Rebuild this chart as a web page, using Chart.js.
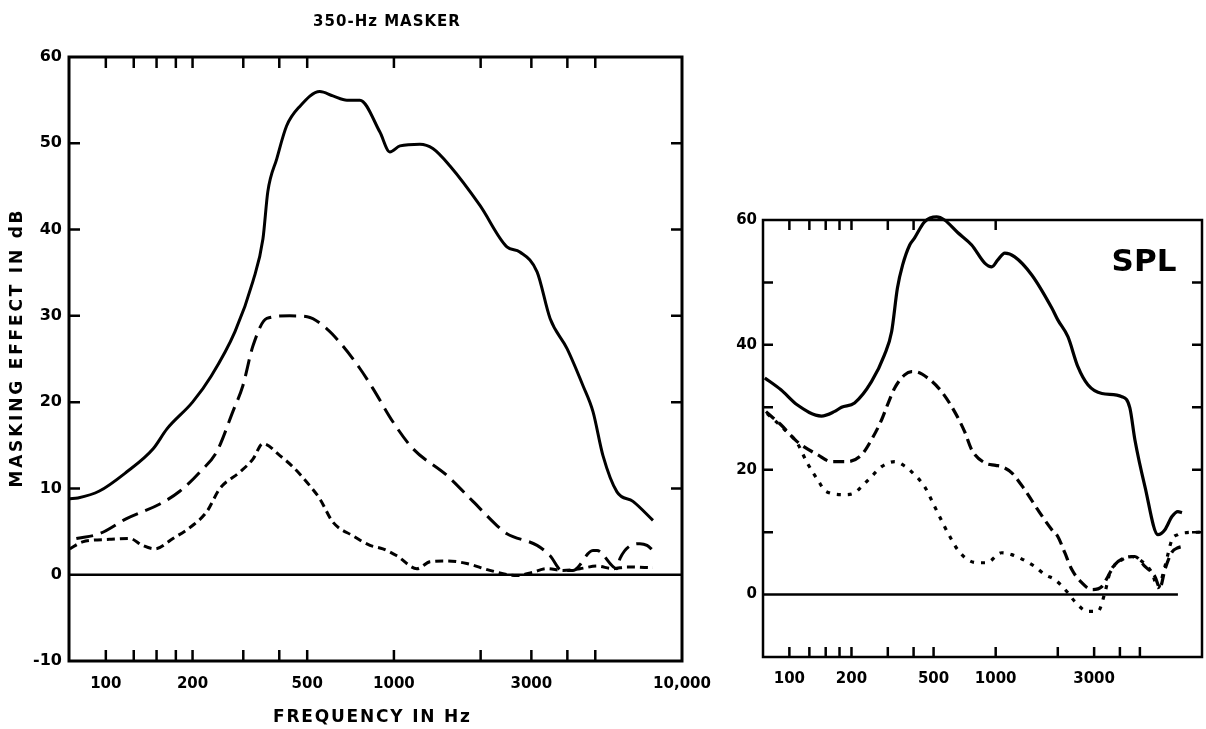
<!DOCTYPE html>
<html>
<head>
<meta charset="utf-8">
<script src="https://cdn.jsdelivr.net/npm/chart.js@4.4.1/dist/chart.umd.min.js"></script>
<style>
  html, body { margin: 0; padding: 0; background: #fff; }
  #wrap { position: relative; width: 1206px; height: 729px; overflow: hidden; background: #fff; }
  #c1 { position: absolute; left: 0; top: 0; }
  #c2 { position: absolute; left: 720px; top: 0; }
</style>
</head>
<body>
<div id="wrap">
  <canvas id="c1" width="720" height="729"></canvas>
  <canvas id="c2" width="486" height="729"></canvas>
</div>
<script>
// ---- Left panel: masking effect (dB) of a 350-Hz masker, three masker levels ----
const leftHighFreq = [75, 80, 95, 118, 146, 163, 200, 232, 281, 324, 351, 365, 392, 424, 472, 553, 614, 687, 762, 894, 968, 1050, 1231, 1365, 1563, 1989, 2467, 2736, 3140, 3484, 3990, 4533, 4909, 5317, 5946, 6757, 7929];
const leftHighDb   = [8.8, 8.9, 9.7, 11.9, 14.6, 16.9, 20, 23, 28.2, 34, 38.9, 44.4, 48.2, 52, 54.3, 56, 55.5, 55, 55, 51.3, 49, 49.7, 49.9, 49.4, 47.4, 42.8, 38, 37.4, 35.1, 29.7, 26.2, 21.9, 18.9, 13.8, 9.6, 8.5, 6.3];

const leftMidFreq = [79, 95, 118, 154, 181, 212, 243, 276, 299, 324, 362, 435, 500, 585, 665, 762, 845, 993, 1165, 1528, 1881, 2278, 2467, 3140, 3484, 3828, 4187, 4909, 5070, 5946, 6095, 7146, 7557, 7929];
const leftMidDb   = [4.2, 4.75, 6.5, 8.2, 9.7, 11.9, 14.3, 18.9, 21.9, 26.5, 29.7, 30, 29.9, 28.5, 26.5, 23.9, 21.6, 17.7, 14.6, 11.5, 8.5, 5.7, 4.75, 3.4, 2.2, 0.5, 0.5, 2.8, 2.8, 0.7, 1.9, 3.6, 3.4, 2.8];

const leftLowFreq = [75, 83, 103, 121, 134, 148, 171, 200, 224, 249, 292, 324, 351, 402, 446, 511, 553, 614, 721, 826, 916, 1024, 1202, 1334, 1528, 1790, 2154, 2673, 3040, 3398, 3862, 4425, 5070, 5754, 6442, 7929];
const leftLowDb   = [3, 3.8, 4.1, 4.2, 3.4, 3, 4.2, 5.7, 7.3, 10, 11.9, 13.4, 15.2, 13.8, 12.5, 10.3, 8.8, 6.1, 4.5, 3.4, 3, 2.2, 0.7, 1.5, 1.6, 1.3, 0.5, -0.1, 0.3, 0.7, 0.5, 0.7, 1, 0.7, 0.9, 0.8];

// ---- Right panel: same conditions expressed in SPL ----
const rightHighFreq = [76, 91, 109, 143, 165, 179, 207, 250, 289, 313, 334, 354, 383, 404, 452, 517, 565, 654, 765, 885, 957, 1024, 1107, 1237, 1496, 1871, 2000, 2239, 2502, 2798, 3273, 4093, 4470, 4728, 5290, 6114, 6612, 7150, 7644, 7998];
const rightHighDb   = [34.7, 32.8, 30.4, 28.6, 29.3, 30, 30.7, 34.1, 38.4, 42.1, 49.1, 52.8, 56, 57.1, 59.7, 60.5, 60, 58, 56, 53.1, 52.5, 53.6, 54.7, 54.1, 51.2, 45.9, 44, 41.3, 36.5, 33.6, 32.2, 31.7, 29.9, 24.8, 17.3, 9.6, 10.4, 12.5, 13.3, 13.1];

const rightMidFreq = [77, 91, 109, 137, 160, 191, 224, 250, 280, 299, 324, 362, 391, 404, 468, 547, 632, 707, 765, 885, 1000, 1069, 1196, 1383, 1599, 1871, 2000, 2163, 2339, 2614, 2925, 3273, 3500, 3783, 4228, 4728, 5290, 5913, 6252, 6612, 7150, 7644, 7998];
const rightMidDb   = [29.3, 27.2, 24.5, 22.4, 21.3, 21.3, 22.4, 24.8, 28, 30.4, 33.1, 35.2, 35.7, 35.7, 34.7, 32.5, 29.3, 26.1, 23.2, 21.1, 20.7, 20.5, 19.5, 16.8, 13.6, 10.4, 9.3, 6.7, 4, 1.9, 0.8, 1.3, 2.9, 4.8, 5.9, 6.1, 4.5, 2.9, 1.1, 4, 6.8, 7.5, 7.7];

const rightLowFreq = [78, 95, 109, 122, 137, 151, 185, 207, 224, 250, 280, 324, 362, 396, 452, 506, 565, 611, 654, 731, 818, 904, 1069, 1196, 1546, 1729, 1933, 2239, 2417, 2798, 3127, 3383, 3577, 3909, 4571, 5117, 5718, 6114, 6612, 7150, 7644, 8261, 10000];
const rightLowDb   = [29, 26.4, 24.3, 21.1, 18.4, 16.5, 16, 16.3, 17.3, 18.9, 20.5, 21.3, 20.6, 19.5, 17.3, 14.1, 10.9, 8.8, 7.2, 5.6, 5.1, 5.1, 6.7, 6.4, 4.5, 3.2, 2.4, 0.3, -1.1, -2.7, -2.7, 0.3, 3.5, 5.1, 6.1, 5.3, 3.5, 1.1, 4.5, 8.8, 9.6, 9.9, 10];

// ---- Axis ticks and labels ----
const freqMin = 74.5, freqMax = 10000;
const leftFreqLabels  = [100, 200, 500, 1000, 3000, 10000];
const rightFreqLabels = [100, 200, 500, 1000, 3000];
const freqMarks       = [100, 125, 150, 175, 200, 300, 400, 500, 1000, 2000, 3000, 4000, 5000];
const rightTopMarks   = [100, 125, 150, 175, 200, 300, 400, 1000];
const dbMarks         = [10, 20, 30, 40, 50];
const leftDbLabels    = [-10, 0, 10, 20, 30, 40, 50, 60];
const rightDbLabels   = [0, 20, 40, 60];

const titleText   = '350-Hz MASKER';
const xTitleText  = 'FREQUENCY IN Hz';
const yTitleText  = 'MASKING EFFECT IN dB';
const panelTag    = 'SPL';

const FONT = "'DejaVu Sans', sans-serif";
Chart.defaults.font.family = FONT;
Chart.defaults.color = '#000';

const toPoints = (xs, ys) => xs.map((f, i) => ({ x: f, y: ys[i] }));

function line(xs, ys, width, dash) {
  return {
    data: toPoints(xs, ys),
    borderColor: '#000',
    borderWidth: width,
    borderDash: dash,
    borderCapStyle: 'butt',
    borderJoinStyle: 'round',
    pointRadius: 0,
    fill: false,
    cubicInterpolationMode: 'monotone',
    clip: false
  };
}

// Frame and inward tick marks on all four sides
const frameTicks = {
  id: 'frameTicks',
  afterDatasetsDraw(chart, args, o) {
    const { ctx, chartArea: a, scales: { x, y } } = chart;
    ctx.save();
    ctx.strokeStyle = '#000';
    ctx.lineCap = 'butt';
    ctx.lineWidth = o.frame;
    ctx.strokeRect(a.left, a.top, a.right - a.left, a.bottom - a.top);
    ctx.lineWidth = o.tick;
    ctx.beginPath();
    o.bottom.forEach(v => { const p = x.getPixelForValue(v); ctx.moveTo(p, a.bottom); ctx.lineTo(p, a.bottom - o.len); });
    o.top.forEach(v => { const p = x.getPixelForValue(v); ctx.moveTo(p, a.top); ctx.lineTo(p, a.top + o.len); });
    o.side.forEach(v => {
      const p = y.getPixelForValue(v);
      ctx.moveTo(a.left, p); ctx.lineTo(a.left + o.len, p);
      ctx.moveTo(a.right, p); ctx.lineTo(a.right - o.len, p);
    });
    ctx.stroke();
    ctx.restore();
  }
};

// Titles with lettering-style spacing
const captions = {
  id: 'captions',
  afterDraw(chart, args, o) {
    const { ctx, chartArea: a } = chart;
    ctx.save();
    ctx.fillStyle = '#000';
    (o.items || []).forEach(t => {
      ctx.save();
      ctx.font = t.font;
      ctx.letterSpacing = t.spacing + 'px';
      ctx.textAlign = 'center';
      ctx.textBaseline = 'middle';
      const cx = t.ax === 'right' ? a.right + t.dx : (t.ax === 'left' ? a.left + t.dx : (a.left + a.right) / 2 + t.dx);
      const cy = t.ay === 'bottom' ? a.bottom + t.dy : (t.ay === 'top' ? a.top + t.dy : (a.top + a.bottom) / 2 + t.dy);
      ctx.translate(cx, cy);
      if (t.rotate) ctx.rotate(t.rotate);
      ctx.fillText(t.text, t.spacing / 2, 0);
      ctx.restore();
    });
    ctx.restore();
  }
};

function scales(cfg) {
  return {
    x: {
      type: 'logarithmic',
      min: cfg.xmin, max: freqMax,
      grid: { display: false, drawTicks: false },
      border: { display: false },
      afterBuildTicks: s => { s.ticks = cfg.xLabels.map(v => ({ value: v })); },
      afterFit: s => { s.height = cfg.xHeight; s.paddingLeft = 0; s.paddingRight = 0; },
      ticks: {
        autoSkip: false, maxRotation: 0, minRotation: 0,
        padding: cfg.xPad,
        font: { size: cfg.xSize, weight: 'bold' },
        callback: v => (v === 10000 ? '10,000' : String(v))
      }
    },
    y: {
      type: 'linear',
      min: -10, max: 60,
      grid: { display: false, drawTicks: false },
      border: { display: false },
      afterBuildTicks: s => { s.ticks = cfg.yLabels.map(v => ({ value: v })); },
      afterFit: s => { s.width = cfg.yWidth; s.paddingTop = 0; s.paddingBottom = 0; },
      ticks: {
        padding: cfg.yPad,
        font: { size: cfg.ySize, weight: 'bold' },
        callback: v => String(v)
      }
    }
  };
}

// Left chart
new Chart(document.getElementById('c1'), {
  type: 'line',
  data: {
    datasets: [
      line([freqMin, freqMax], [0, 0], 2.5, []),
      line(leftHighFreq, leftHighDb, 3, []),
      line(leftMidFreq, leftMidDb, 3, [17, 8]),
      line(leftLowFreq, leftLowDb, 3, [8, 5])
    ]
  },
  options: {
    responsive: false,
    animation: false,
    events: [],
    layout: { padding: { top: 57, right: 38, left: 0, bottom: 0 } },
    plugins: {
      legend: { display: false },
      tooltip: { enabled: false },
      frameTicks: { frame: 3, tick: 2.5, len: 11, bottom: freqMarks, top: freqMarks, side: dbMarks },
      captions: {
        items: [
          { text: titleText, font: "bold 15px " + FONT, spacing: 1, dx: 11, dy: -35, ay: 'top' },
          { text: xTitleText, font: "bold 17px " + FONT, spacing: 1.8, dx: -4, dy: 57, ay: 'bottom' },
          { text: yTitleText, font: "bold 17px " + FONT, spacing: 2.8, ax: 'left', dx: -51, dy: -10, rotate: -Math.PI / 2 }
        ]
      }
    },
    scales: scales({ xmin: freqMin, xLabels: leftFreqLabels, yLabels: leftDbLabels,
                     xHeight: 68, yWidth: 69, xPad: 14, yPad: 7, xSize: 15, ySize: 16 })
  },
  plugins: [frameTicks, captions]
});

// Right chart
new Chart(document.getElementById('c2'), {
  type: 'line',
  data: {
    datasets: [
      line([freqMin, 7644], [0, 0], 2.5, []),
      line(rightHighFreq, rightHighDb, 3.2, []),
      line(rightMidFreq, rightMidDb, 3.2, [11, 6]),
      line(rightLowFreq, rightLowDb, 3.2, [4, 7])
    ]
  },
  options: {
    responsive: false,
    animation: false,
    events: [],
    layout: { padding: { top: 220, right: 4, left: 0, bottom: 0 } },
    plugins: {
      legend: { display: false },
      tooltip: { enabled: false },
      frameTicks: { frame: 2.5, tick: 2.5, len: 10, bottom: freqMarks, top: rightTopMarks, side: dbMarks },
      captions: {
        items: [
          { text: panelTag, font: "bold 31px " + FONT, spacing: 0, ax: 'right', dx: -58, ay: 'top', dy: 43 }
        ]
      }
    },
    scales: scales({ xmin: freqMin, xLabels: rightFreqLabels, yLabels: rightDbLabels,
                     xHeight: 72, yWidth: 43, xPad: 13, yPad: 6, xSize: 15, ySize: 15 })
  },
  plugins: [frameTicks, captions]
});
</script>
</body>
</html>
